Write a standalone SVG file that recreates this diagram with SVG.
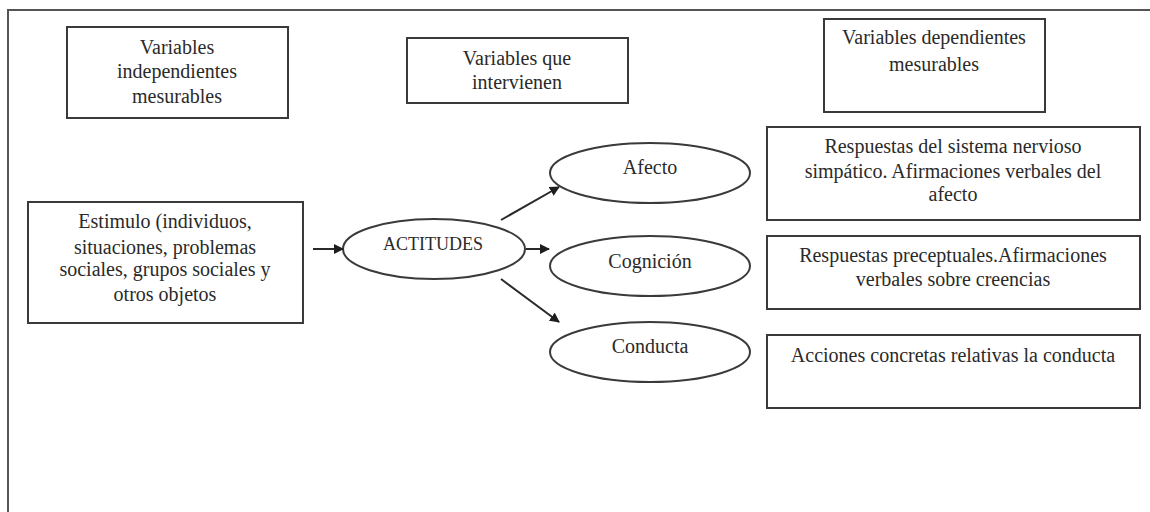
<svg xmlns="http://www.w3.org/2000/svg" width="1150" height="512" viewBox="0 0 1150 512">
<style>
.box{fill:#fff;stroke:#3a3a3a;stroke-width:2}
.ell{fill:#fff;stroke:#3a3a3a;stroke-width:2}
.t{font-family:"Liberation Serif","Times New Roman",serif;font-size:20px;fill:#2a2a2a;text-anchor:middle}
.c{stroke:#2a2a2a;stroke-width:2;fill:none;marker-end:url(#ah)}
</style>
<defs>
<marker id="ah" viewBox="0 0 10 10" refX="9" refY="5" markerWidth="5" markerHeight="5" orient="auto" markerUnits="strokeWidth">
<path d="M0,0 L10,5 L0,10 z" fill="#1e1e1e"/>
</marker>
</defs>
<rect width="1150" height="512" fill="#fff"/>
<path d="M8,512 V10 H1150" fill="none" stroke="#555" stroke-width="2"/>
<g id="indep">
<rect class="box" x="67" y="27" width="221" height="91"/>
<text class="t" x="177" y="54">Variables</text>
<text class="t" x="177" y="78">independientes</text>
<text class="t" x="177" y="103">mesurables</text>
</g>
<g id="intervienen">
<rect class="box" x="407" y="38" width="221" height="65"/>
<text class="t" x="517" y="65">Variables que</text>
<text class="t" x="517" y="89">intervienen</text>
</g>
<g id="dep">
<rect class="box" x="824" y="19" width="221" height="93"/>
<text class="t" x="934" y="44">Variables dependientes</text>
<text class="t" x="934" y="71">mesurables</text>
</g>
<g id="estimulo">
<rect class="box" x="28" y="202" width="275" height="121"/>
<text class="t" x="165" y="228">Estimulo (individuos,</text>
<text class="t" x="165" y="254">situaciones, problemas</text>
<text class="t" x="165" y="276">sociales, grupos sociales y</text>
<text class="t" x="165" y="301">otros objetos</text>
</g>
<g id="actitudes">
<ellipse class="ell" cx="434" cy="249" rx="91" ry="30"/>
<text class="t" x="433" y="250" style="font-size:18px">ACTITUDES</text>
</g>
<g id="afecto">
<ellipse class="ell" cx="650" cy="173" rx="100" ry="30"/>
<text class="t" x="650" y="174">Afecto</text>
</g>
<g id="cognicion">
<ellipse class="ell" cx="650" cy="266" rx="100" ry="30"/>
<text class="t" x="650" y="268">Cognición</text>
</g>
<g id="conducta">
<ellipse class="ell" cx="650" cy="352" rx="100" ry="30"/>
<text class="t" x="650" y="353">Conducta</text>
</g>
<g id="resp-afecto">
<rect class="box" x="767" y="127" width="373" height="93"/>
<text class="t" x="953" y="153">Respuestas del sistema nervioso</text>
<text class="t" x="953" y="178">simpático. Afirmaciones verbales del</text>
<text class="t" x="953" y="201">afecto</text>
</g>
<g id="resp-cognicion">
<rect class="box" x="767" y="236" width="373" height="73"/>
<text class="t" x="953" y="262">Respuestas preceptuales.Afirmaciones</text>
<text class="t" x="953" y="286">verbales sobre creencias</text>
</g>
<g id="resp-conducta">
<rect class="box" x="767" y="335" width="373" height="73"/>
<text class="t" x="953" y="362">Acciones concretas relativas la conducta</text>
</g>
<g id="connectors">
<line class="c" x1="313" y1="249" x2="343" y2="249"/>
<line class="c" x1="501" y1="220" x2="559" y2="187"/>
<line class="c" x1="526" y1="249" x2="549" y2="249"/>
<line class="c" x1="501" y1="279" x2="559" y2="322"/>
</g>
</svg>
